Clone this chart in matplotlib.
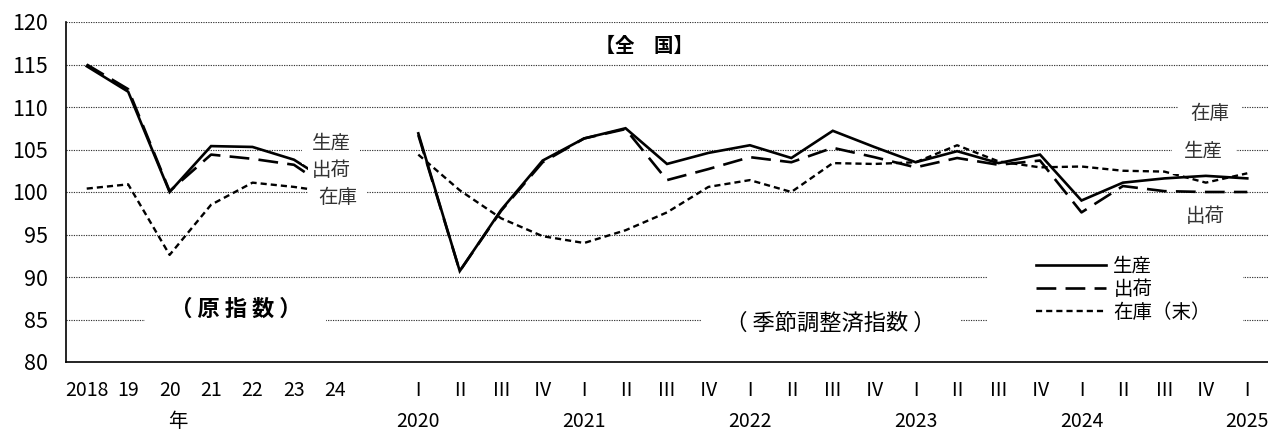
import matplotlib
matplotlib.use("Agg")
import matplotlib.pyplot as plt
from matplotlib.patches import Rectangle
from matplotlib.lines import Line2D
import matplotlib.transforms as mtrans

plt.rcParams['font.family'] = ['Noto Sans CJK JP', 'DejaVu Sans']

# ---------------- data ----------------
annual_labels = ['2018', '19', '20', '21', '22', '23', '24']
annual_prod = [114.8, 111.8, 100.0, 105.4, 105.3, 103.8, 100.7]
annual_ship = [115.0, 112.1, 100.1, 104.4, 103.9, 103.2, 99.9]
annual_inv = [100.4, 100.9, 92.6, 98.5, 101.1, 100.6, 99.9]

quarter_labels = ['Ⅰ', 'Ⅱ', 'Ⅲ', 'Ⅳ'] * 5 + ['Ⅰ']
quarter_years = ['2020', '2021', '2022', '2023', '2024', '2025']
q_prod = [106.9, 90.7, 97.9, 103.7,
          106.3, 107.5, 103.3, 104.6,
          105.5, 104.0, 107.2, 105.3,
          103.5, 104.8, 103.4, 104.4,
          99.0, 101.1, 101.6, 101.9,
          101.6]
q_ship = [106.7, 90.7, 97.8, 103.5,
          106.3, 107.4, 101.4, 102.7,
          104.1, 103.5, 105.2, 104.1,
          102.9, 104.0, 103.2, 103.7,
          97.6, 100.7, 100.1, 100.0,
          100.0]
q_inv = [104.4, 100.2, 96.9, 94.8,
         94.0, 95.5, 97.6, 100.6,
         101.4, 100.0, 103.4, 103.3,
         103.5, 105.5, 103.6, 102.9,
         103.0, 102.5, 102.4, 101.1,
         102.2]

# ---------------- layout ----------------
fig = plt.figure(figsize=(12.68, 4.33), dpi=100)
ax = fig.add_axes([66/1268, 1-362/433, 1-66/1268, (362-22)/433])

n_a = len(annual_labels)
xa = list(range(n_a))
q0 = n_a + 1
xq = list(range(q0, q0 + len(quarter_labels)))

solid = dict(color='black', lw=1.9, linestyle='-', solid_joinstyle='miter')
longd = dict(color='black', lw=1.9, linestyle=(0, (7.5, 3.5)))
shortd = dict(color='black', lw=1.7, linestyle=(0, (2.6, 1.7)))

for x, p, s, i in [(xa, annual_prod, annual_ship, annual_inv),
                   (xq, q_prod, q_ship, q_inv)]:
    ax.plot(x, i, zorder=2, **shortd)
    ax.plot(x, s, zorder=2.1, **longd)
    ax.plot(x, p, zorder=2.2, **solid)

ax.set_xlim(-0.5, xq[-1] + 0.5)
ax.set_ylim(80, 120)
ax.set_yticks(range(80, 121, 5))
ax.set_axisbelow(True)
ax.yaxis.grid(True, linestyle=(0, (1.1, 1.1)), color='#333333', lw=0.8)
ax.tick_params(axis='y', length=0, pad=13, labelsize=15.5)
ax.tick_params(axis='x', length=0, pad=13, labelsize=14)
ax.set_xticks(xa + xq)
ax.set_xticklabels(annual_labels + quarter_labels)
for sp in ['top', 'right']:
    ax.spines[sp].set_visible(False)
ax.spines['left'].set_linewidth(1.2)
ax.spines['bottom'].set_linewidth(1.2)

# second row of x labels
trans = mtrans.blended_transform_factory(ax.transData, ax.transAxes)
ax.text(2.2, -0.175, '年', transform=trans, ha='center', va='center', fontsize=14)
for k, yr in enumerate(quarter_years):
    ax.text(xq[0] + 4*k, -0.175, yr, transform=trans, ha='center', va='center', fontsize=14)

# title and panel captions
ax.text(13.45, 117.1, '　【全　国】　', ha='center', va='center', fontsize=14,
        fontweight='bold', bbox=dict(facecolor='white', edgecolor='none', pad=2))
ax.text(3.6, 86.2, '　（ 原 指 数 ）　', ha='center', va='center', fontsize=16,
        fontweight='bold', bbox=dict(facecolor='white', edgecolor='none', pad=2))
ax.text(17.95, 84.6, '　（ 季節調整済指数 ）　', ha='center', va='center', fontsize=16,
        bbox=dict(facecolor='white', edgecolor='none', pad=2))

# series labels
lab = dict(ha='center', va='center', fontsize=14, color='#333333')
ax.text(5.9, 105.7, '生産', bbox=dict(facecolor='white', edgecolor='none', pad=7), **lab)
ax.text(5.9, 102.5, '出荷', bbox=dict(facecolor='white', edgecolor='none', pad=3), **lab)
ax.text(6.05, 99.3, '在庫', bbox=dict(facecolor='white', edgecolor='none', pad=7), **lab)
ax.text(27.1, 109.2, '在庫', bbox=dict(facecolor='white', edgecolor='none', pad=9), **lab)
ax.text(26.95, 104.8, '生産', bbox=dict(facecolor='white', edgecolor='none', pad=9), **lab)
ax.text(27.0, 97.1, '出荷', bbox=dict(facecolor='white', edgecolor='none', pad=2), **lab)

# legend
ax.add_patch(Rectangle((21.75, 83.4), 6.15, 9.5, facecolor='white',
                       edgecolor='none', zorder=1))
handles = [Line2D([], [], **solid), Line2D([], [], **longd), Line2D([], [], **shortd)]
leg = ax.legend(handles, ['生産', '出荷', '在庫（末）'], loc='upper left',
                bbox_to_anchor=(1022/1268, 1-242/433), bbox_transform=fig.transFigure,
                frameon=False, fontsize=14, handlelength=3.6, handletextpad=0.4,
                labelspacing=0.1, borderpad=0.2)

fig.savefig('out.png', dpi=100)
